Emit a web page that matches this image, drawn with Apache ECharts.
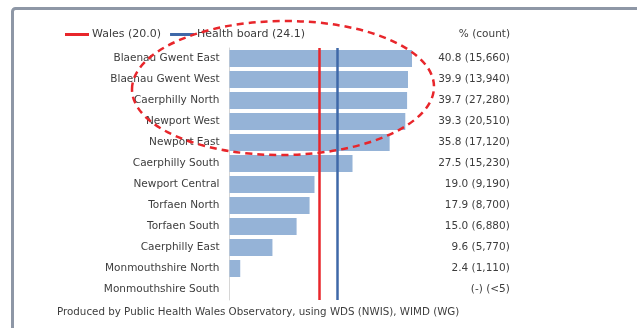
<!DOCTYPE html>
<html>
<head>
<meta charset="utf-8">
<script src="https://cdn.jsdelivr.net/npm/echarts@6/dist/echarts.min.js"></script>
<style>
  html, body { margin: 0; padding: 0; background: #ffffff; }
  #chart { width: 637px; height: 328px; }
</style>
</head>
<body>
<div id="chart"></div>
<script>
// Areas of the health board, ordered from highest to lowest percentage
const categories = [
  'Blaenau Gwent East', 'Blaenau Gwent West', 'Caerphilly North', 'Newport West',
  'Newport East', 'Caerphilly South', 'Newport Central', 'Torfaen North',
  'Torfaen South', 'Caerphilly East', 'Monmouthshire North', 'Monmouthshire South'
];
// Percentage per area (null where the figure is suppressed)
const percents = [40.8, 39.9, 39.7, 39.3, 35.8, 27.5, 19.0, 17.9, 15.0, 9.6, 2.4, null];
// Counts as published (rounded), "<5" where suppressed
const counts = ['15,660', '13,940', '27,280', '20,510', '17,120', '15,230', '9,190', '8,700', '6,880', '5,770', '1,110', '<5'];
// Comparison rates
const walesRate = 20.0;
const boardRate = 24.1;

const FONT = 'DejaVu Sans';
const TXT = '#3d3d3d';

const valueLabels = percents.map((p, i) =>
  (p == null ? '(-)' : p.toFixed(1)) + ' (' + counts[i] + ')');

const chart = echarts.init(document.getElementById('chart'), null, { renderer: 'canvas' });

chart.setOption({
  animation: false,
  backgroundColor: '#ffffff',
  textStyle: { fontFamily: FONT },
  grid: { left: 229.5, top: 48, width: 201.3, height: 252, containLabel: false },
  legend: {
    left: 65, top: 29, padding: 0,
    itemWidth: 24, itemHeight: 3, itemGap: 9,
    icon: 'rect',
    textStyle: { fontFamily: FONT, fontSize: 11, color: TXT, padding: [0, 0, 0, -2] },
    data: ['Wales (' + walesRate.toFixed(1) + ')', 'Health board (' + boardRate.toFixed(1) + ')']
  },
  xAxis: { type: 'value', min: 0, max: 45, show: false },
  yAxis: [
    {
      type: 'category', inverse: true, data: categories,
      axisLine: { show: true, lineStyle: { color: '#d6d6d6', width: 1 } },
      axisTick: { show: false },
      axisLabel: { fontFamily: FONT, fontSize: 10.5, color: TXT, margin: 10 }
    },
    {
      type: 'category', inverse: true, position: 'right', data: valueLabels,
      axisLine: { show: false }, axisTick: { show: false },
      axisLabel: { fontFamily: FONT, fontSize: 10.5, color: TXT, align: 'right', margin: 79 }
    }
  ],
  series: [
    {
      type: 'bar', data: percents, barWidth: '81%',
      itemStyle: { color: '#95b3d7' }
    },
    {
      name: 'Wales (' + walesRate.toFixed(1) + ')',
      type: 'line', data: [], itemStyle: { color: '#e8262b' },
      markLine: {
        silent: true, symbol: 'none', label: { show: false },
        lineStyle: { color: '#e8262b', type: 'solid', width: 2.5 },
        data: [{ xAxis: walesRate }]
      }
    },
    {
      name: 'Health board (' + boardRate.toFixed(1) + ')',
      type: 'line', data: [], itemStyle: { color: '#3f68a8' },
      markLine: {
        silent: true, symbol: 'none', label: { show: false },
        lineStyle: { color: '#3f68a8', type: 'solid', width: 2.5 },
        data: [{ xAxis: boardRate }]
      }
    }
  ],
  graphic: [
    {
      type: 'rect', silent: true, z: 100,
      shape: { x: 12.5, y: 8.5, width: 700, height: 400, r: 3 },
      style: { fill: 'none', stroke: '#8e97a6', lineWidth: 3 }
    },
    {
      type: 'text', right: 127, top: 29,
      style: { text: '% (count)', fontFamily: FONT, fontSize: 10.5, fill: TXT, textAlign: 'right' }
    },
    {
      type: 'text', left: 57, top: 307,
      style: {
        text: 'Produced by Public Health Wales Observatory, using WDS (NWIS), WIMD (WG)',
        fontFamily: FONT, fontSize: 10.3, fill: TXT
      }
    },
    {
      type: 'ellipse', silent: true, z: 50,
      x: 283, y: 88, rotation: 0.01,
      shape: { cx: 0, cy: 0, rx: 151, ry: 67 },
      style: { fill: 'none', stroke: '#e8262b', lineWidth: 2.5, lineDash: [7, 5] }
    }
  ]
});
</script>
</body>
</html>
